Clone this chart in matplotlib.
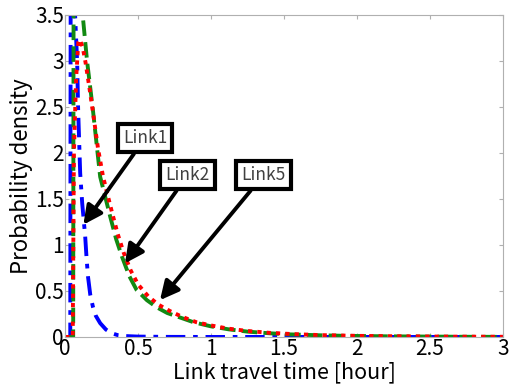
import numpy as np
import matplotlib.pyplot as plt

plt.rcParams['font.family'] = ['Noto Sans CJK JP', 'DejaVu Sans']

# curves (x in hours, y density)
link1_x = [0, 0.035, 0.038, 0.068, 0.082, 0.089, 0.103, 0.117, 0.13, 0.137, 0.147,
           0.157, 0.172, 0.19, 0.21, 0.24, 0.28, 0.32, 0.36, 0.41, 0.5, 0.7, 1.0, 2.0, 3.0]
link1_y = [0, 0, 4.0, 3.5, 3.0, 2.47, 1.78, 1.45, 1.22, 1.1, 0.85,
           0.65, 0.46, 0.33, 0.23, 0.15, 0.08, 0.04, 0.02, 0.01, 0.004, 0.001, 0, 0, 0]

link2_x = [0, 0.052, 0.06, 0.075, 0.09, 0.1, 0.12, 0.14, 0.165, 0.19, 0.225, 0.26, 0.32,
           0.36, 0.4, 0.45, 0.5, 0.57, 0.64, 0.72, 0.8, 0.9, 1.0, 1.12, 1.25, 1.4,
           1.55, 1.75, 2.0, 2.25, 2.5, 2.75, 3.0]
link2_y = [0, 0, 2.0, 2.8, 3.2, 3.23, 3.15, 2.98, 2.72, 2.45, 2.05, 1.74, 1.36,
           1.12, 0.92, 0.72, 0.57, 0.44, 0.35, 0.28, 0.22, 0.16, 0.125, 0.09, 0.065, 0.045,
           0.032, 0.02, 0.012, 0.008, 0.005, 0.003, 0.002]

link5_x = [0, 0.055, 0.058, 0.12, 0.15, 0.19, 0.24, 0.31, 0.35, 0.39, 0.44, 0.49,
           0.56, 0.63, 0.7, 0.79, 0.88, 1.0, 1.12, 1.25, 1.4, 1.54, 1.75, 1.93, 2.2,
           2.5, 2.75, 3.0]
link5_y = [0, 0, 4.0, 3.5, 3.0, 2.47, 1.74, 1.3, 1.06, 0.87, 0.66, 0.51,
           0.4, 0.32, 0.26, 0.21, 0.16, 0.115, 0.083, 0.058, 0.04, 0.028, 0.018, 0.012, 0.007,
           0.004, 0.002, 0.001]

labels = ['Link1', 'Link2', 'Link5']
box_xy = [(0.548, 2.16), (0.84, 1.76), (1.36, 1.76)]
tip_xy = [(0.125, 1.22), (0.41, 0.80), (0.65, 0.40)]

fig = plt.figure(figsize=(5.09, 3.9), dpi=100)
ax = fig.add_axes([0.128, 0.136, 0.86, 0.826])

ax.plot(link1_x, link1_y, color='#0000ff', lw=2.8, ls=(0, (5, 2, 1.2, 2)))
ax.plot(link5_x, link5_y, color='#128a12', lw=2.8, ls=(0, (4, 1.6)))
ax.plot(link2_x, link2_y, color='#ff0000', lw=2.8, ls=(0, (1.1, 1.3)))

for lab, b, t in zip(labels, box_xy, tip_xy):
    ax.annotate(lab, xy=t, xytext=b, fontsize=12.5, color='#404040',
                ha='center', va='center',
                bbox=dict(boxstyle='square,pad=0.3', fc='white', ec='black', lw=3),
                arrowprops=dict(arrowstyle='-|>,head_length=0.9,head_width=0.45',
                                color='black', lw=2.8, shrinkA=0, shrinkB=0))

ax.set_xlim(0, 3)
ax.set_ylim(0, 3.5)
ax.set_xticks(np.arange(0, 3.01, 0.5))
ax.set_xticklabels(['0', '0.5', '1', '1.5', '2', '2.5', '3'])
ax.set_yticks(np.arange(0, 3.51, 0.5))
ax.set_yticklabels(['0', '0.5', '1', '1.5', '2', '2.5', '3', '3.5'])
ax.tick_params(direction='in', top=True, right=True, length=3, color='#b0b0b0',
               labelsize=15, pad=1)
for s in ax.spines.values():
    s.set_color('#b0b0b0')
ax.set_xlabel('Link travel time [hour]', fontsize=15.5, labelpad=1)
ax.set_ylabel('Probability density', fontsize=16, labelpad=1)

fig.savefig('out.png', dpi=100)
